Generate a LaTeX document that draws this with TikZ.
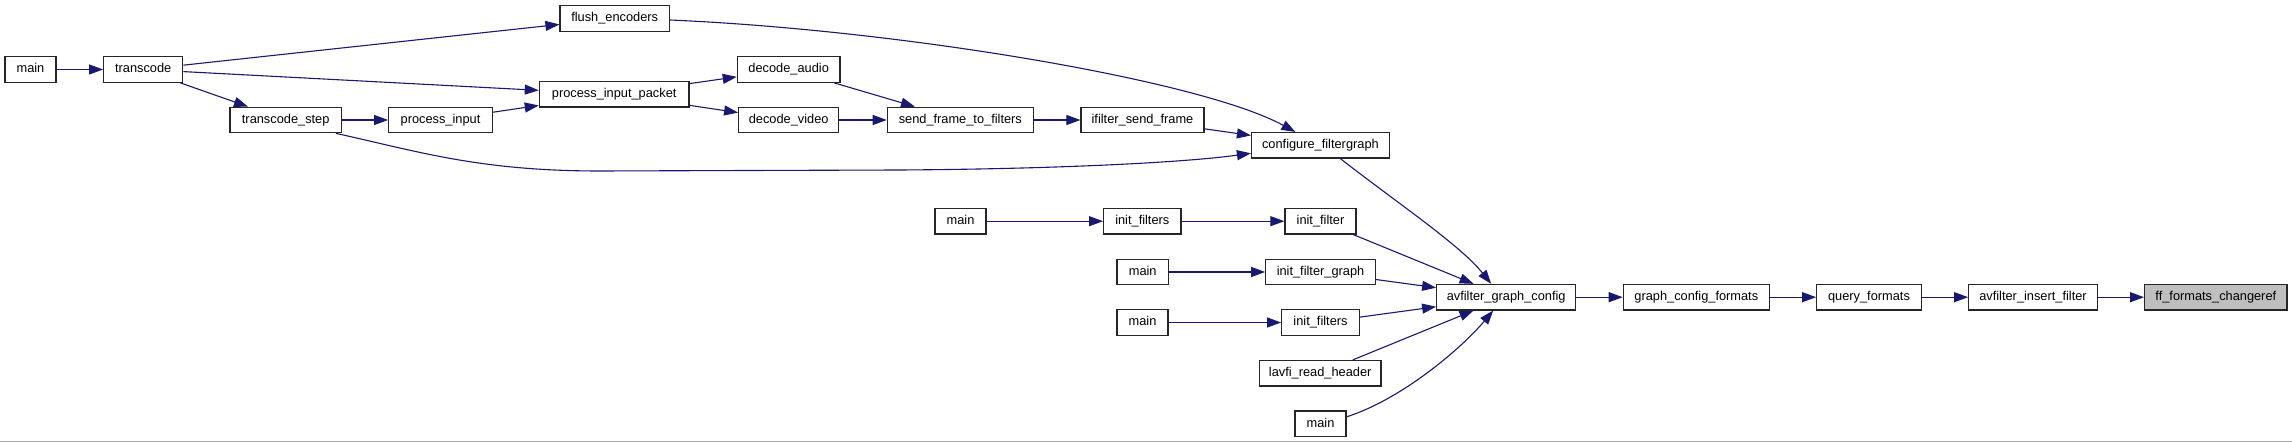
\documentclass[tikz,border=0pt]{standalone}
\usepackage{fontspec}
\setmainfont{Liberation Sans}
\usetikzlibrary{arrows.meta}
\definecolor{edgeblue}{HTML}{191970}
\definecolor{curgray}{HTML}{BFBFBF}
\begin{document}
\begin{tikzpicture}[x=1pt,y=-1pt,
  fn/.style={draw=black!85, line width=1.2pt, fill=white, inner sep=0pt,
    minimum height=25.5pt, text height=9.5pt, text depth=2.5pt,
    font=\fontsize{12.8}{14}\selectfont, text=black},
  cur/.style={fn, fill=curgray},
  call/.style={draw=edgeblue, line width=1.1pt, -{Triangle[length=14pt,width=10pt]}}
]
\fill[white] (0,0) rectangle (2292,443);
\useasboundingbox (0,0) rectangle (2292,443);
\draw[line width=1.5pt, color=black!35] (0,441.5) -- (2292,441.5);

\node[fn, minimum width=51pt] (m1) at (30.5,69.5) {main};
\node[fn, minimum width=79pt] (tc) at (143.2,69.5) {transcode};
\node[fn, minimum width=109.3pt] (fe) at (614.7,18.5) {flush\_encoders};
\node[fn, minimum width=149.7pt] (pip) at (614.2,94.3) {process\_input\_packet};
\node[fn, minimum width=111.3pt] (ts) at (285.7,120) {transcode\_step};
\node[fn, minimum width=103.6pt] (pi) at (440.5,120) {process\_input};
\node[fn, minimum width=102.7pt] (da) at (788.7,69.5) {decode\_audio};
\node[fn, minimum width=100pt] (dv) at (788.7,120) {decode\_video};
\node[fn, minimum width=146pt] (sf) at (960.3,120) {send\_frame\_to\_filters};
\node[fn, minimum width=123pt] (isf) at (1142.5,120) {ifilter\_send\_frame};
\node[fn, minimum width=137.8pt] (cf) at (1320.4,145.3) {configure\_filtergraph};
\node[fn, minimum width=51pt] (mA) at (960.5,221.2) {main};
\node[fn, minimum width=77.3pt] (ifsA) at (1142.3,221.2) {init\_filters};
\node[fn, minimum width=71pt] (ifl) at (1320.5,221.2) {init\_filter};
\node[fn, minimum width=51.3pt] (mB) at (1142.7,272) {main};
\node[fn, minimum width=109.6pt] (ifg) at (1320.5,272) {init\_filter\_graph};
\node[fn, minimum width=51pt] (mC) at (1142.5,322.5) {main};
\node[fn, minimum width=77.6pt] (ifsC) at (1320.5,322.5) {init\_filters};
\node[fn, minimum width=121.7pt] (lrh) at (1320.2,373.2) {lavfi\_read\_header};
\node[fn, minimum width=51pt] (mD) at (1320.5,423.8) {main};
\node[fn, minimum width=139pt] (agc) at (1506.2,297.2) {avfilter\_graph\_config};
\node[fn, minimum width=146pt] (gcf) at (1696.3,297.2) {graph\_config\_formats};
\node[fn, minimum width=104.6pt] (qf) at (1869,297.2) {query\_formats};
\node[fn, minimum width=128.6pt] (aif) at (2033,297.2) {avfilter\_insert\_filter};
\node[cur, minimum width=142.3pt] (ffc) at (2215.8,297.2) {ff\_formats\_changeref};

\draw[call] (m1) -- (tc);
\draw[call] (tc) -- (fe);
\draw[call] (tc) -- (pip);
\draw[call] ([xshift=-3pt]tc.south east) -- ([xshift=-37.7pt]ts.north);
\draw[call] (ts) -- (pi);
\draw[call] ([xshift=-6pt]ts.south east) .. controls (420,152) and (480,171) .. (600,171)
   -- (900,170) .. controls (1050,169) and (1180,163) .. ([yshift=-8pt]cf.west);
\draw[call] (pi) -- (pip);
\draw[call] (pip) -- (da);
\draw[call] (pip) -- (dv);
\draw[call] ([yshift=-1.5pt]fe.east) .. controls (900,30) and (1200,80) .. ([xshift=-25pt]cf.north);
\draw[call] (da) -- (sf);
\draw[call] (dv) -- (sf);
\draw[call] (sf) -- (isf);
\draw[call] (isf) -- (cf);
\draw[call] ([xshift=20pt]cf.south) .. controls (1400,205) and (1460,245) .. ([xshift=-15pt]agc.north);
\draw[call] (mA) -- (ifsA);
\draw[call] (ifsA) -- (ifl);
\draw[call] (ifl) -- (agc);
\draw[call] (mB) -- (ifg);
\draw[call] (ifg) -- (agc);
\draw[call] (mC) -- (ifsC);
\draw[call] (ifsC) -- (agc);
\draw[call] (lrh) -- (agc);
\draw[call] ([yshift=7pt]mD.east) .. controls (1400,400) and (1460,350) .. ([xshift=-13pt]agc.south);
\draw[call] (agc) -- (gcf);
\draw[call] (gcf) -- (qf);
\draw[call] (qf) -- (aif);
\draw[call] (aif) -- (ffc);
\end{tikzpicture}
\end{document}
